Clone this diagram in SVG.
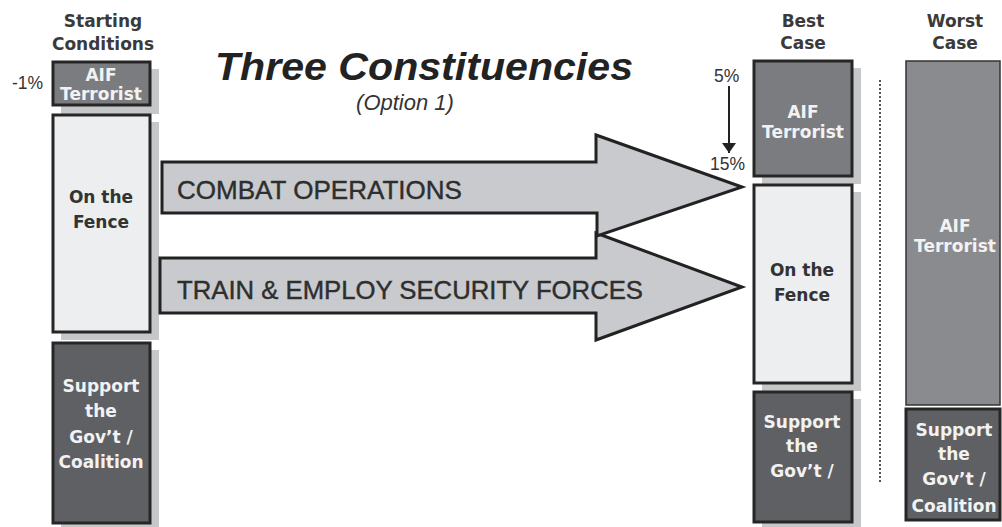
<svg xmlns="http://www.w3.org/2000/svg" width="1002" height="527" viewBox="0 0 1002 527">
<defs>
<style>
.hdr{font-family:"DejaVu Sans",sans-serif;font-weight:bold;font-size:17px;fill:#3a3a3a;text-anchor:middle}
.lbl{font-family:"DejaVu Sans",sans-serif;font-weight:bold;font-size:17px;text-anchor:middle}
.lt{fill:#f2f2f2}
.dk{fill:#333}
.pct{font-family:"Liberation Sans",Arial,sans-serif;font-size:17.5px;fill:#333}
.arrtxt{font-family:"Liberation Sans",Arial,sans-serif;font-size:25px;fill:#2e2e2e;stroke:#2e2e2e;stroke-width:0.4}
.shadow{fill:#c6c7c9}
.box{stroke:#262626;stroke-width:3}
.aif{fill:#7b7c7f}
.fence{fill:#eceeef}
.sup{fill:#5f6064}
.arrow{fill:#c9cacd;stroke:#222;stroke-width:3;stroke-linejoin:miter}
</style>
<marker id="ah" viewBox="0 0 10 14" refX="10" refY="7" markerWidth="10" markerHeight="14" markerUnits="userSpaceOnUse" orient="auto">
<path d="M0,0 L10,7 L0,14 Z" fill="#222"/>
</marker>
</defs>
<rect width="1002" height="527" fill="#ffffff"/>

<text x="215" y="80" font-family="Liberation Sans,Arial,sans-serif" font-size="39" font-weight="bold" font-style="italic" fill="#222" textLength="418" lengthAdjust="spacingAndGlyphs">Three Constituencies</text>
<text x="405" y="110" font-family="Liberation Sans,Arial,sans-serif" font-size="22" font-style="italic" fill="#333" text-anchor="middle">(Option 1)</text>

<g id="hdr-start"><text class="hdr" x="103" y="27">Starting</text><text class="hdr" x="103" y="50">Conditions</text></g>
<g id="hdr-best"><text class="hdr" x="803" y="27">Best</text><text class="hdr" x="803" y="49">Case</text></g>
<g id="hdr-worst"><text class="hdr" x="955" y="27">Worst</text><text class="hdr" x="955" y="49">Case</text></g>

<g id="start-aif">
<rect class="shadow" x="61" y="69" width="98" height="45"/>
<rect class="box aif" x="53" y="62" width="97" height="43"/>
<text class="lbl lt" x="101" y="81" font-size="16">AIF</text>
<text class="lbl lt" x="101" y="100" font-size="16">Terrorist</text>
</g>
<text class="pct" x="12" y="89">-1%</text>

<g id="start-fence">
<rect class="shadow" x="61" y="122" width="98" height="218"/>
<rect class="box fence" x="53" y="115" width="97" height="217"/>
<text class="lbl dk" x="101" y="203">On the</text>
<text class="lbl dk" x="101" y="228">Fence</text>
</g>

<g id="start-support">
<rect class="shadow" x="61" y="350" width="98" height="177"/>
<rect class="box sup" x="53" y="343" width="97" height="180"/>
<text class="lbl lt" x="101" y="392">Support</text>
<text class="lbl lt" x="101" y="417">the</text>
<text class="lbl lt" x="101" y="443">Gov’t /</text>
<text class="lbl lt" x="101" y="468">Coalition</text>
</g>

<g id="best-aif">
<rect class="shadow" x="762" y="68" width="99" height="116"/>
<rect class="box aif" x="754" y="61" width="98" height="115"/>
<text class="lbl lt" x="803" y="118">AIF</text>
<text class="lbl lt" x="803" y="138">Terrorist</text>
</g>

<g id="best-fence">
<rect class="shadow" x="762" y="192" width="99" height="199"/>
<rect class="box fence" x="754" y="185" width="98" height="198"/>
<text class="lbl dk" x="802" y="276">On the</text>
<text class="lbl dk" x="802" y="301">Fence</text>
</g>

<g id="best-support">
<rect class="shadow" x="762" y="399" width="99" height="128"/>
<rect class="box sup" x="754" y="392" width="98" height="130"/>
<text class="lbl lt" x="802" y="428">Support</text>
<text class="lbl lt" x="802" y="452">the</text>
<text class="lbl lt" x="802" y="477">Gov’t /</text>
</g>

<g id="worst-aif">
<rect x="906" y="61" width="94" height="344" fill="#8a8b8e" stroke="#333" stroke-width="1.5"/>
<text class="lbl lt" x="955" y="232">AIF</text>
<text class="lbl lt" x="955" y="252">Terrorist</text>
</g>

<g id="worst-support">
<rect class="box sup" x="906" y="409" width="94" height="111"/>
<text class="lbl lt" x="954" y="436">Support</text>
<text class="lbl lt" x="954" y="460">the</text>
<text class="lbl lt" x="954" y="485">Gov’t /</text>
<text class="lbl lt" x="954" y="512">Coalition</text>
</g>

<line x1="880" y1="80" x2="880" y2="483" stroke="#555" stroke-width="2" stroke-dasharray="2,2"/>

<g id="connectors">
<g id="arrow-train">
<path class="arrow" d="M160,258 L596,258 L596,233 L742,287 L596,340 L596,313 L160,313 Z"/>
<text class="arrtxt" x="177" y="299" textLength="466" lengthAdjust="spacingAndGlyphs">TRAIN &amp; EMPLOY SECURITY FORCES</text>
</g>
<g id="arrow-combat">
<path class="arrow" d="M162,162 L596,162 L596,135 L742,187 L597,236 L597,213 L162,213 Z"/>
<text class="arrtxt" x="177" y="199" textLength="285" lengthAdjust="spacingAndGlyphs">COMBAT OPERATIONS</text>
</g>
<line x1="729" y1="86" x2="729" y2="153" stroke="#222" stroke-width="2" marker-end="url(#ah)"/>
</g>
<text class="pct" x="714" y="82">5%</text>
<text class="pct" x="710" y="170">15%</text>
</svg>
